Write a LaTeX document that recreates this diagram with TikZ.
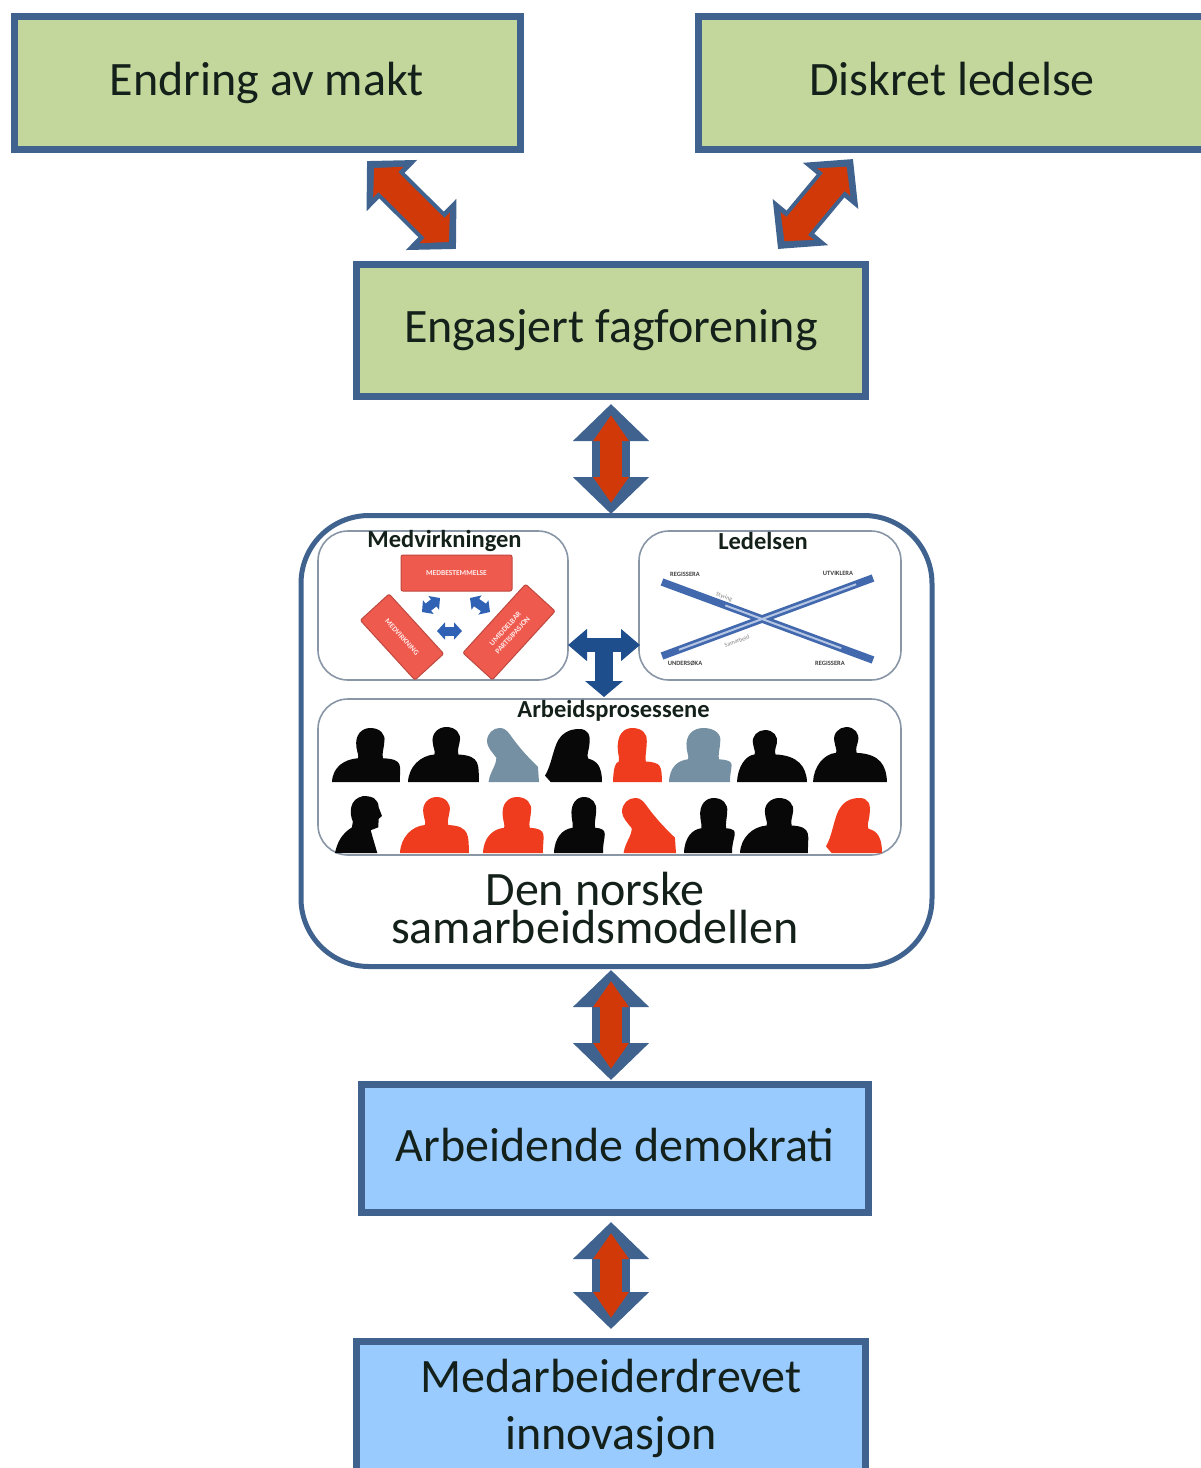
\documentclass[tikz,border=0pt]{standalone}
\usepackage{fontspec}
\setmainfont{Carlito}
\usetikzlibrary{arrows.meta,calc}
\definecolor{edgeblue}{HTML}{3F628F}
\definecolor{boxgreen}{HTML}{C3D69B}
\definecolor{boxblue}{HTML}{99CBFF}
\definecolor{arrowred}{HTML}{D13A08}
\definecolor{darkblue}{HTML}{1F4E8C}
\definecolor{innergrey}{HTML}{8896A6}
\definecolor{slabred}{HTML}{EF5A4E}
\definecolor{smallblue}{HTML}{2F62B5}
\definecolor{xblue}{HTML}{4268AE}
\definecolor{xlight}{HTML}{B4C6E4}
\definecolor{perred}{HTML}{F03C1E}
\definecolor{pergrey}{HTML}{7590A3}
\definecolor{perblack}{HTML}{080808}
\definecolor{inktext}{HTML}{14201A}
\tikzset{
  x=1pt,y=-1pt,
  mainbox/.style={draw=edgeblue,line width=7pt,inner sep=0pt,align=center,text=inktext,
    font=\fontsize{48}{57}\selectfont},
  greenbox/.style={mainbox,fill=boxgreen},
  bluebox/.style={mainbox,fill=boxblue},
  innerbox/.style={draw=innergrey,line width=1.6pt,fill=white,rounded corners=30pt,inner sep=0pt},
  slab/.style={draw=slabred!80!black,line width=1pt,fill=slabred,rounded corners=2pt,inner sep=0pt,
    text=white!92!red,align=center,font=\bfseries\fontsize{7.5}{10}\selectfont},
  ptitle/.style={inner sep=0pt,font=\bfseries\fontsize{24.5}{28}\selectfont,text=inktext},
  tinytext/.style={inner sep=0pt,font=\bfseries\fontsize{6.5}{7}\selectfont,text=black!75},
  tinygrey/.style={inner sep=0pt,font=\fontsize{6}{7}\selectfont,text=black!50},
  outerpass/.style={draw=edgeblue,line width=38pt,
    {Triangle[length=37pt,width=74pt,fill=edgeblue]}-{Triangle[length=37pt,width=74pt,fill=edgeblue]}},
  innerpass/.style={draw=arrowred,line width=22pt,
    {Triangle[length=26pt,width=34pt,fill=arrowred]}-{Triangle[length=26pt,width=34pt,fill=arrowred]}},
  diagouter/.style={draw=edgeblue,line width=36pt,
    {Triangle[length=35pt,width=70pt,fill=edgeblue]}-{Triangle[length=35pt,width=70pt,fill=edgeblue]}},
  diaginner/.style={draw=arrowred,line width=28pt,
    {Triangle[length=20pt,width=42pt,fill=arrowred]}-{Triangle[length=20pt,width=42pt,fill=arrowred]}},
  tbar/.style={draw=darkblue,line width=14pt,
    {Triangle[length=19pt,width=31pt,fill=darkblue]}-{Triangle[length=19pt,width=31pt,fill=darkblue]}},
  tstem/.style={draw=darkblue,line width=18pt,-{Triangle[length=16pt,width=37pt,fill=darkblue]}},
  minidbl/.style={draw=smallblue,line width=9pt,
    {Triangle[length=8pt,width=17pt,fill=smallblue]}-{Triangle[length=8pt,width=17pt,fill=smallblue]}},
  xbar/.style={draw=xblue,line width=7.5pt},
  xstripe/.style={draw=xlight,line width=2pt},
}
% silhouettes in unit coordinates: 0..1 across, 0..1 downwards
\newcommand\persB{(0,.88) .. controls (.1,.7) and (.12,.5) .. (.2,.28) .. controls (.28,.08) and (.42,0) .. (.6,0)
  .. controls (.76,0) and (.8,.12) .. (.78,.28) .. controls (.77,.42) and (.72,.5) .. (.76,.56)
  .. controls (.92,.6) and (1,.72) .. (1,1) -- (.1,1) -- cycle}
\newcommand\persC{(.03,1) .. controls (.06,.8) and (.18,.7) .. (.18,.55) .. controls (.1,.45) and (0,.35) .. (0,.25)
  .. controls (0,.1) and (.12,0) .. (.24,0) .. controls (.38,0) and (.42,.1) .. (.5,.2)
  .. controls (.65,.4) and (.85,.6) .. (.98,.72) -- (1,1) -- cycle}
\newcommand\persD{(0,1) .. controls (.05,.8) and (.15,.66) .. (.36,.55) -- (.38,.45)
  .. controls (.3,.3) and (.3,.05) .. (.6,0) .. controls (.8,0) and (.92,.05) .. (.93,.2)
  -- (1,.35) -- (.93,.4) -- (.92,.55) -- (.76,.6) -- (.8,.72) -- (.9,1) -- cycle}
\newcommand\person[6]{%
  \pgfmathsetmacro\pw{#2-#1}\pgfmathsetmacro\ph{#4-#3}%
  \begin{scope}[shift={(#1,#3)},x=\pw pt,y={-\ph pt}]
    \fill[#5] #6;
  \end{scope}}
% general figure: head from #6 to #7 across, shoulders at height #8
\newcommand\sitter[8]{%
  \pgfmathsetmacro\pw{#2-#1}\pgfmathsetmacro\ph{#4-#3}%
  \pgfmathsetmacro\hm{(#6+#7)/2}\pgfmathsetmacro\hw{(#7-#6)/2}%
  \begin{scope}[shift={(#1,#3)},x=\pw pt,y={-\ph pt}]
    \fill[#5] (0,1) .. controls (.01,.72) and (#6*.5,#8+.02) .. (#6+.02,#8)
      .. controls (#6+.04,#8-.05) and (#6+.01,#8-.1) .. (#6,#8-.2)
      .. controls (#6-.03,.12) and (\hm-\hw*.6,0) .. (\hm,0)
      .. controls (\hm+\hw*.7,0) and (#7+.02,.12) .. (#7,.25)
      .. controls (#7-.01,#8-.15) and (#7-.04,#8-.08) .. (#7-.02,#8)
      .. controls (#7+.3,#8+.02) and (.99,.7) .. (1,1) -- cycle;
  \end{scope}}
\begin{document}
\begin{tikzpicture}
\useasboundingbox (0,0) rectangle (1201,1468);
\clip (0,0) rectangle (1201,1468);

% main boxes
\node[greenbox,minimum width=506pt,minimum height=133pt] (makt) at (267,82.5) {Endring av makt};
\node[greenbox,minimum width=507pt,minimum height=133pt] (diskret) at (952,82.5) {Diskret ledelse\vphantom{g}};
\node[greenbox,minimum width=509pt,minimum height=132pt] (fag) at (611,330.5) {Engasjert fagforening};
\node[draw=edgeblue,line width=5pt,fill=white,rounded corners=68pt,minimum width=631pt,minimum height=451pt,inner sep=0pt] (modell) at (616.5,741) {};
\node[bluebox,minimum width=507pt,minimum height=128pt] (arb) at (615,1148.5) {Arbeidende demokrati\vphantom{g}};
\node[bluebox,minimum width=509pt,minimum height=134pt] (med) at (611,1408.5) {Medarbeiderdrevet\\innovasjon};

% inner panels
\node[innerbox,minimum width=250pt,minimum height=149pt] (pmed) at (443,605.5) {};
\node[innerbox,minimum width=262pt,minimum height=149pt] (pled) at (770,605.5) {};
\node[innerbox,minimum width=583pt,minimum height=156pt] (parb) at (609.5,777) {};
\node[ptitle] (tmed) at (444.5,541) {Medvirkningen};
\node[ptitle] (tled) at (763,541) {Ledelsen};
\node[ptitle] (tarb) at (613.5,711) {Arbeidsprosessene};
\node[inner sep=0pt,align=center,text=inktext,font=\fontsize{48}{38}\selectfont] (tmodell) at (595,908) {Den norske\\samarbeidsmodellen};

% red slabs of the first panel
\node[slab,minimum width=111pt,minimum height=36pt] (s1) at (456.5,573) {MEDBESTEMMELSE};
\node[slab,minimum width=81pt,minimum height=39pt,rotate=-47.6] (s2) at (402,637) {MEDVIRKNING};
\node[slab,minimum width=93pt,minimum height=40pt,rotate=47.6] (s3) at (509,632) {UMIDDELBAR\\PARTISIPASJON};
\coordinate (a1s) at (422,612); \coordinate (a1e) at (440,598);
\coordinate (a2s) at (470,598); \coordinate (a2e) at (490,612);
\coordinate (a3s) at (437,631); \coordinate (a3e) at (462,631);
\draw[minidbl] (a1s) -- (a1e);
\draw[minidbl] (a2s) -- (a2e);
\draw[minidbl] (a3s) -- (a3e);

% the cross of the second panel
\coordinate (xtl) at (662,582); \coordinate (xbr) at (873,660);
\coordinate (xbl) at (662,656); \coordinate (xtr) at (873,578);
\draw[xbar] (xbl) -- (xtr);
\draw[xbar] (xtl) -- (xbr);
\draw[xstripe] ($(xbl)!.08!(xtr)$) -- ($(xbl)!.92!(xtr)$);
\draw[xstripe] ($(xtl)!.30!(xbr)$) -- ($(xtl)!.85!(xbr)$);
\node[tinytext] (l1) at (685,574) {REGISSERA};
\node[tinytext] (l2) at (838,573) {UTVIKLERA};
\node[tinytext] (l3) at (685,663) {UNDERSØKA};
\node[tinytext] (l4) at (830,663) {REGISSERA};
\node[tinygrey,rotate=-20] (l5) at (724,597) {Styring};
\node[tinygrey,rotate=20] (l6) at (737,641) {Samarbeid};

% people, upper row
\sitter{332}{400}{728}{782}{perblack}{.36}{.77}{.56}
\sitter{408}{479}{727}{782}{perblack}{.35}{.73}{.5}
\person{487}{539}{728}{782}{pergrey}{\persC}
\person{545}{602}{729}{782}{perblack}{\persB}
\sitter{613}{662}{728}{782}{perred}{.1}{.69}{.62}
\sitter{669}{730}{728}{782}{pergrey}{.29}{.84}{.58}
\sitter{737}{807}{730}{782}{perblack}{.23}{.57}{.47}
\sitter{813}{887}{727}{782}{perblack}{.29}{.61}{.47}
% people, lower row
\person{335}{382}{796}{853}{perblack}{\persD}
\sitter{400}{469}{797}{853}{perred}{.34}{.72}{.5}
\sitter{483}{543}{797}{853}{perred}{.33}{.8}{.55}
\sitter{554}{603}{797}{853}{perblack}{.36}{.86}{.55}
\person{622}{676}{798}{853}{perred}{\persC}
\sitter{684}{732}{798}{853}{perblack}{.34}{.9}{.55}
\sitter{740}{808}{798}{853}{perblack}{.37}{.78}{.5}
\person{826}{882}{798}{853}{perred}{\persB}

% T arrow between panels
\coordinate (tl) at (568,645); \coordinate (tr) at (640,645);
\coordinate (tm) at (604,645); \coordinate (tb) at (604,697);
\draw[tbar] (tl) -- (tr);
\draw[tstem] (tm) -- (tb);

% double block arrows
\coordinate (m1) at (367,161); \coordinate (f1) at (456,249);
\coordinate (d1) at (853,159); \coordinate (f2) at (778,249);
\coordinate (c1) at (611,404); \coordinate (c2) at (611,514);
\coordinate (c3) at (611,970); \coordinate (c4) at (611,1080);
\coordinate (c5) at (611,1222); \coordinate (c6) at (611,1329);
\foreach \p/\q in {c1/c2,c3/c4,c5/c6}{
  \draw[outerpass] (\p) -- (\q);
  \draw[innerpass] ($(\p)+(0,11)$) -- ($(\q)+(0,-11)$);
}
\foreach \p/\q in {m1/f1,d1/f2}{
  \draw[diagouter] (\p) -- (\q);
  \draw[diaginner] ($(\p)!10pt!(\q)$) -- ($(\q)!10pt!(\p)$);
}
\end{tikzpicture}
\end{document}
